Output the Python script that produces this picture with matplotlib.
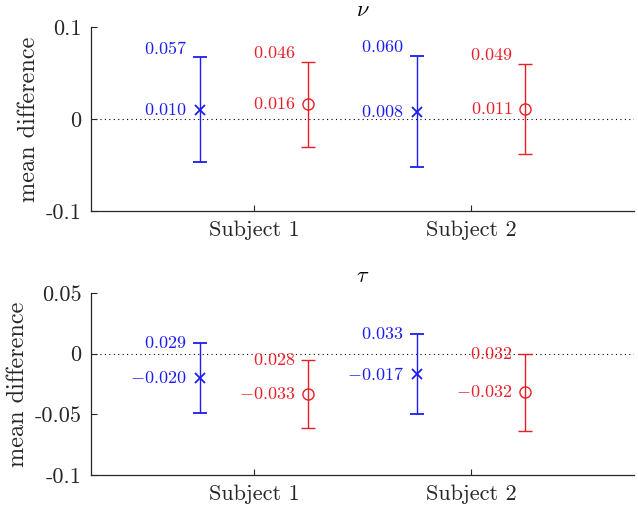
import matplotlib
matplotlib.use("Agg")
import matplotlib.pyplot as plt

plt.rcParams['font.family'] = 'serif'
plt.rcParams['font.serif'] = ['cmr10', 'DejaVu Serif']
plt.rcParams['mathtext.fontset'] = 'cm'
plt.rcParams['axes.formatter.use_mathtext'] = True

subjects = ['Subject 1', 'Subject 2']
subject_pos = [1, 2]

nu_blue_mean = [0.010, 0.008]
nu_blue_err = [0.057, 0.060]
nu_red_mean = [0.016, 0.011]
nu_red_err = [0.046, 0.049]

tau_blue_mean = [-0.020, -0.017]
tau_blue_err = [0.029, 0.033]
tau_red_mean = [-0.033, -0.032]
tau_red_err = [0.028, 0.032]

nu_yticks = [-0.1, 0, 0.1]
nu_yticklabels = ['-0.1', '0', '0.1']
tau_yticks = [-0.1, -0.05, 0, 0.05]
tau_yticklabels = ['-0.1', '-0.05', '0', '0.05']

BLUE = '#1c1cf5'
RED = '#ea1e26'
AX = '#262626'

fig = plt.figure(figsize=(6.38, 5.11), dpi=100)
ax1 = fig.add_axes([91/638, 1-211/511, 543/638, 184/511])
ax2 = fig.add_axes([91/638, 1-475/511, 543/638, 182/511])


def fmt(v):
    s = f"{abs(v):.3f}"
    return f"$-{s}$" if v < 0 else f"${s}$"


def panel(ax, title, bm, be, rm, re, ylim, yt, ytl, err_off):
    ax.axhline(0, color='k', lw=0.8, ls=(0, (1, 3)), zorder=1)
    xb = [p - 0.25 for p in subject_pos]
    xr = [p + 0.25 for p in subject_pos]
    ax.errorbar(xb, bm, yerr=be, fmt='x', color=BLUE, ecolor=BLUE, ms=6.5,
                mew=1.3, capsize=5, elinewidth=1.0, capthick=1.0, zorder=3)
    ax.errorbar(xr, rm, yerr=re, fmt='o', color=RED, ecolor=RED, ms=8,
                mfc='none', mew=1.0, capsize=5, elinewidth=1.0, capthick=1.0, zorder=3)
    for xs, ms_, es, c in [(xb, bm, be, BLUE), (xr, rm, re, RED)]:
        for x, m, e in zip(xs, ms_, es):
            ax.annotate(fmt(m), (x, m), xytext=(-9.5, 0), textcoords='offset points',
                        ha='right', va='center', color=c, fontsize=13)
            ax.annotate(fmt(e), (x, m + e), xytext=(-9.5, err_off), textcoords='offset points',
                        ha='right', va='center', color=c, fontsize=13)
    ax.set_xlim(0.25, 2.75)
    ax.set_ylim(*ylim)
    ax.set_xticks(subject_pos)
    ax.set_xticklabels(subjects, fontsize=16)
    ax.set_yticks(yt)
    ax.set_yticklabels(ytl, fontsize=16)
    ax.tick_params(direction='in', length=4, width=0.8, colors=AX, pad=7)
    for s in ['top', 'right']:
        ax.spines[s].set_visible(False)
    for s in ['left', 'bottom']:
        ax.spines[s].set_color(AX)
        ax.spines[s].set_linewidth(0.9)
    ax.set_ylabel('mean difference', fontsize=17.5, color=AX, labelpad=4)
    ax.set_title(title, fontsize=16, pad=8)


panel(ax1, r'$\nu$', nu_blue_mean, nu_blue_err, nu_red_mean, nu_red_err,
      (-0.1, 0.1), nu_yticks, nu_yticklabels, 6.5)
panel(ax2, r'$\tau$', tau_blue_mean, tau_blue_err, tau_red_mean, tau_red_err,
      (-0.1, 0.05), tau_yticks, tau_yticklabels, 0)

fig.savefig('out.png', dpi=100)
